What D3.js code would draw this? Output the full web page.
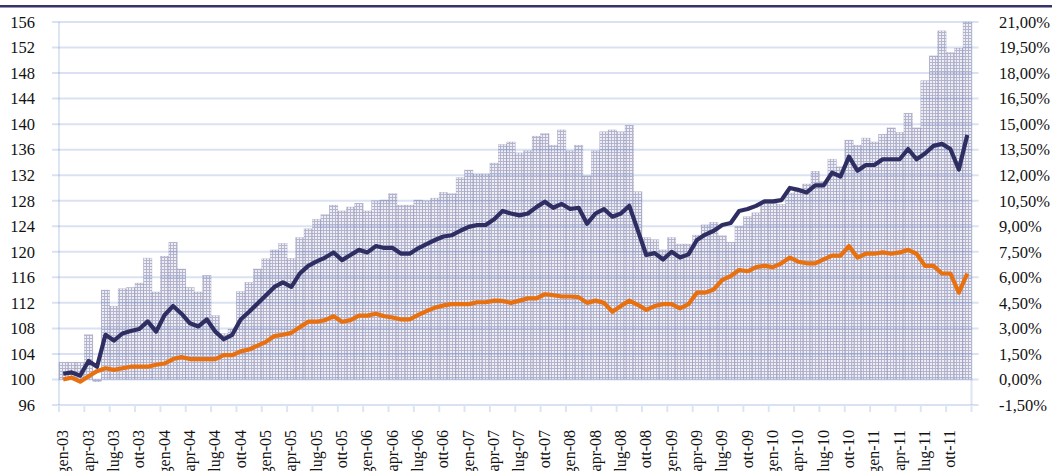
<!DOCTYPE html>
<html lang="it">
<head>
<meta charset="UTF-8" />
<title>Indici e spread</title>
<script src="https://d3js.org/d3.v7.min.js"></script>
<style>
  body { margin: 0; background: #fff; }
  svg { display: block; font-family: "Liberation Serif", "DejaVu Serif", serif; }
  .lbl { font-size: 16.5px; fill: #111; }
  .xlbl { font-size: 16px; fill: #111; }
</style>
</head>
<body>
<svg id="chart" width="1052" height="471"></svg>
<script>
// months / years for the category axis
const monthNames = ["gen", "feb", "mar", "apr", "mag", "giu", "lug", "ago", "set", "ott", "nov", "dic"];
const years = ["03", "04", "05", "06", "07", "08", "09", "10", "11"];

// bars, right axis (%)
const barValues = [
  1.01, 1.01, 1.01, 2.63, -0.13, 5.25, 4.31, 5.33, 5.40, 5.66, 7.13, 5.14,
  7.24, 8.06, 6.49, 5.40, 5.14, 6.11, 3.75, 2.70, 2.96, 5.16, 5.70, 6.49,
  7.09, 7.61, 7.99, 7.11, 8.33, 8.85, 9.41, 9.68, 10.24, 9.90, 10.13, 10.35,
  9.90, 10.50, 10.54, 10.91, 10.24, 10.24, 10.54, 10.50, 10.65, 10.99, 10.91, 11.85,
  12.30, 12.08, 12.08, 12.71, 13.80, 13.95, 13.31, 13.43, 14.29, 14.44, 13.76, 14.66,
  13.43, 13.76, 11.96, 13.43, 14.55, 14.66, 14.55, 14.93, 11.03, 8.33, 8.21, 7.61,
  8.33, 7.95, 7.95, 8.48, 9.08, 9.23, 8.44, 8.06, 9.00, 9.56, 9.79, 10.35,
  10.39, 10.28, 10.95, 11.18, 11.48, 12.23, 11.63, 12.94, 12.49, 14.06, 13.76, 14.18,
  13.95, 14.40, 14.78, 14.51, 15.64, 14.78, 17.55, 19.01, 20.48, 19.20, 19.46, 21.00
];

// navy line, left axis (index)
const navyValues = [
  100.9, 101.1, 100.6, 102.9, 102.0, 107.0, 106.1, 107.2, 107.6, 107.9, 109.1, 107.5,
  110.1, 111.5, 110.3, 108.8, 108.3, 109.4, 107.5, 106.3, 107.0, 109.4, 110.6, 111.9,
  113.2, 114.5, 115.2, 114.5, 116.6, 117.8, 118.5, 119.1, 119.9, 118.7, 119.5, 120.3,
  119.9, 120.9, 120.6, 120.6, 119.7, 119.7, 120.55, 121.2, 121.85, 122.4, 122.6, 123.3,
  123.9, 124.2, 124.2, 125.1, 126.4, 126.0, 125.7, 126.0, 127.0, 127.85, 126.9, 127.5,
  126.7, 126.9, 124.4, 126.0, 126.7, 125.5, 126.0, 127.2, 123.4, 119.5, 119.8, 118.8,
  120.0, 119.1, 119.6, 121.85, 122.7, 123.3, 124.2, 124.5, 126.4, 126.7, 127.2, 127.9,
  127.9, 128.1, 130.0, 129.7, 129.3, 130.4, 130.4, 132.4, 131.8, 134.9, 132.7, 133.6,
  133.6, 134.5, 134.5, 134.5, 136.1, 134.5, 135.4, 136.6, 136.9, 136.1, 132.9, 138.3
];

// orange line, left axis (index)
const orangeValues = [
  100.0, 100.3, 99.65, 100.5, 101.3, 101.75, 101.5, 101.75, 102.0, 102.0, 102.0, 102.3,
  102.5, 103.2, 103.5, 103.2, 103.2, 103.2, 103.2, 103.8, 103.8, 104.4, 104.7, 105.3,
  105.9, 106.8, 107.0, 107.3, 108.2, 109.05, 109.05, 109.3, 109.9, 109.05, 109.3, 110.0,
  110.0, 110.3, 109.9, 109.7, 109.4, 109.4, 110.1, 110.7, 111.25, 111.6, 111.8, 111.8,
  111.8, 112.1, 112.1, 112.35, 112.3, 112.0, 112.35, 112.7, 112.7, 113.35, 113.2, 113.0,
  113.0, 112.9, 112.0, 112.35, 112.0, 110.6, 111.5, 112.35, 111.7, 110.9, 111.5, 111.8,
  111.8, 111.15, 111.8, 113.6, 113.6, 114.1, 115.6, 116.2, 117.15, 116.95, 117.6, 117.8,
  117.6, 118.2, 119.1, 118.45, 118.2, 118.2, 118.8, 119.4, 119.4, 120.9, 119.1, 119.7,
  119.7, 119.9, 119.7, 119.9, 120.3, 119.7, 117.8, 117.8, 116.6, 116.6, 113.6, 116.6
];

const leftTicks = d3.range(96, 157, 4);
const rightTicks = d3.range(-1.5, 21.01, 1.5);

const categories = [];
years.forEach(y => monthNames.forEach(m => categories.push(m + "-" + y)));

const svg = d3.select("#chart");
const plotLeft = 59, plotRight = 971.5, plotTop = 22, plotBottom = 405;

const x = d3.scaleBand().domain(categories).range([plotLeft, plotRight]).padding(0);
const yL = d3.scaleLinear().domain([96, 156]).range([plotBottom, plotTop]);
const yR = d3.scaleLinear().domain([-1.5, 21]).range([plotBottom, plotTop]);

// hatched fill of the bars
const defs = svg.append("defs");
const pat = defs.append("pattern")
  .attr("id", "hatch").attr("patternUnits", "userSpaceOnUse")
  .attr("width", 3).attr("height", 3);
pat.append("rect").attr("width", 3).attr("height", 3).attr("fill", "#b4b4cf");
pat.append("rect").attr("width", 2).attr("height", 2).attr("fill", "#eeeef5");

// top rule
svg.append("rect").attr("x", 0).attr("y", 5).attr("width", 1052).attr("height", 2.5).attr("fill", "#34346a");

// axis lines
svg.append("line").attr("x1", plotLeft).attr("x2", plotLeft).attr("y1", plotTop).attr("y2", plotBottom)
  .attr("stroke", "#dce6f2").attr("stroke-width", 2);
svg.append("line").attr("x1", plotRight).attr("x2", plotRight).attr("y1", plotTop).attr("y2", plotBottom)
  .attr("stroke", "#dce6f2").attr("stroke-width", 2);

// bars
svg.append("g").selectAll("rect")
  .data(barValues)
  .join("rect")
  .attr("x", (d, i) => x(categories[i]))
  .attr("width", x.bandwidth())
  .attr("y", d => Math.min(yR(d), yR(0)))
  .attr("height", d => Math.abs(yR(d) - yR(0)))
  .attr("fill", "url(#hatch)")
  .attr("stroke", "rgba(90,90,140,0.3)")
  .attr("stroke-width", 0.6);

// gridlines (translucent so they darken over bars)
svg.append("g").selectAll("line")
  .data(leftTicks)
  .join("line")
  .attr("x1", plotLeft - 7).attr("x2", plotRight + 7)
  .attr("y1", d => yL(d)).attr("y2", d => yL(d))
  .attr("stroke", "rgba(110,140,205,0.26)").attr("stroke-width", 2);

// bottom tick marks every 3 months
const tickCats = categories.filter((c, i) => i % 3 === 0);
svg.append("g").selectAll("line")
  .data(tickCats.map(c => x(c)).concat([plotRight]))
  .join("line")
  .attr("x1", d => d).attr("x2", d => d)
  .attr("y1", plotBottom).attr("y2", plotBottom + 7)
  .attr("stroke", "#dce6f2").attr("stroke-width", 2);

// left labels
svg.append("g").selectAll("text")
  .data(leftTicks)
  .join("text")
  .attr("class", "lbl")
  .attr("x", 35).attr("y", d => yL(d))
  .attr("dy", "0.35em").attr("text-anchor", "end")
  .text(d => d);

// right labels
const fmt = d => d.toFixed(2).replace(".", ",") + "%";
svg.append("g").selectAll("text")
  .data(rightTicks)
  .join("text")
  .attr("class", "lbl")
  .attr("x", 999).attr("y", d => yR(d))
  .attr("dy", "0.35em").attr("text-anchor", "start")
  .text(fmt);

// x labels, rotated
svg.append("g").selectAll("text")
  .data(tickCats)
  .join("text")
  .attr("class", "xlbl")
  .attr("transform", d => `translate(${x(d) + x.bandwidth() / 2 + 5},430) rotate(-90)`)
  .attr("text-anchor", "end")
  .text(d => d);

// lines
const line = d3.line()
  .x((d, i) => x(categories[i]) + x.bandwidth() / 2)
  .y(d => yL(d));

svg.append("path").datum(orangeValues)
  .attr("d", line).attr("fill", "none")
  .attr("stroke", "#e8700e").attr("stroke-width", 4.2).attr("stroke-linejoin", "round");

svg.append("path").datum(navyValues)
  .attr("d", line).attr("fill", "none")
  .attr("stroke", "#2f2e62").attr("stroke-width", 4.2).attr("stroke-linejoin", "round");
</script>
</body>
</html>
